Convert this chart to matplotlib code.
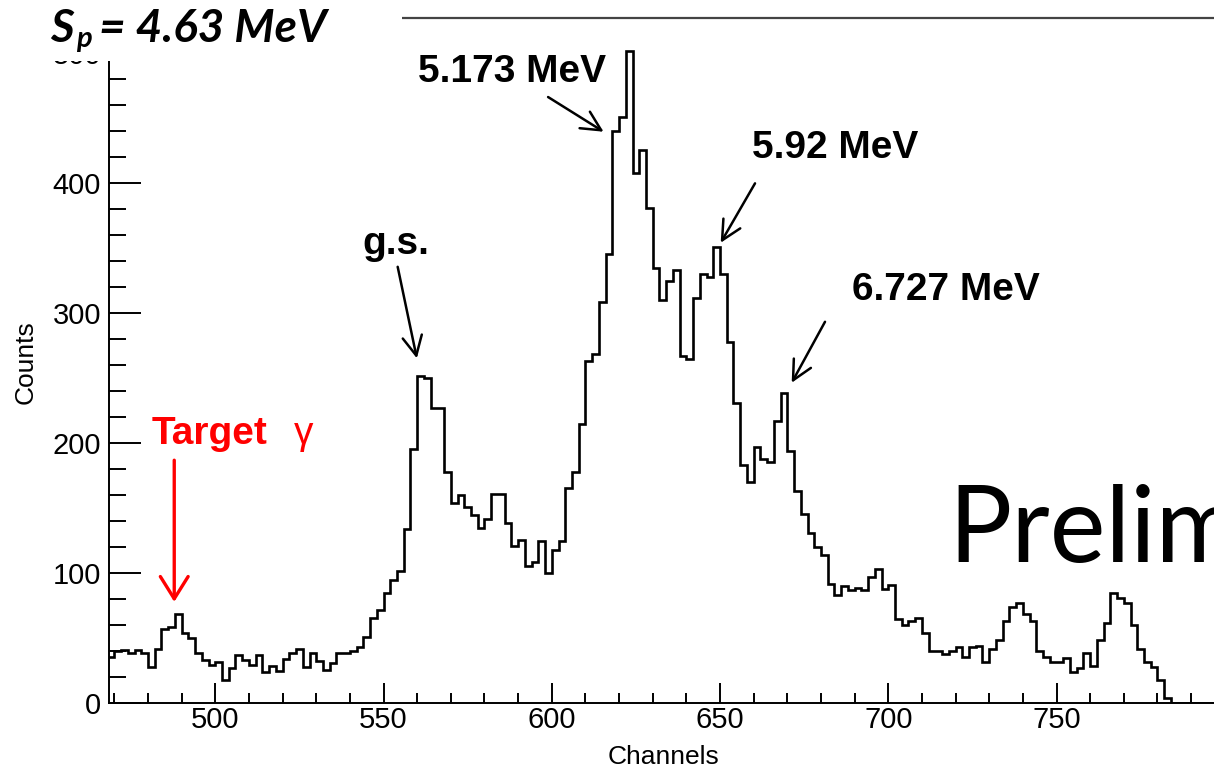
import numpy as np
import matplotlib
matplotlib.use('Agg')
import matplotlib.pyplot as plt
from matplotlib.patches import Rectangle
from matplotlib.patches import ArrowStyle
from matplotlib.ticker import MultipleLocator

plt.rcParams['font.family'] = ['Liberation Sans', 'DejaVu Sans']

# spectrum, 2 channels per bin, first bin starts at channel 468
bin_start = 468
bin_width = 2
counts = [
    36, 40, 41, 39, 41, 38.5, 28, 41.5, 57, 58.5,          # 468-486
    69, 54, 50, 39, 33, 29.5, 32, 18, 27, 37,              # 488-506
    33, 29.5, 37, 24.3, 29, 25, 34, 38.5, 41.5, 27.7,      # 508-526
    38.5, 32.8, 26, 31, 39, 39, 40, 43, 51, 66,            # 528-546
    72, 85, 95, 102, 134, 196, 252, 250, 227, 227,         # 548-566
    178, 154, 160, 151, 145, 135, 142, 161, 161, 139,      # 568-586
    121, 126, 106, 109, 125, 100, 118, 125, 166, 178,      # 588-606
    215, 263, 269, 309, 346, 440, 451, 502, 408, 426,      # 608-626
    381, 335, 310, 325, 333, 267, 265, 312, 330, 328,      # 628-646
    351, 330, 278, 231, 183, 170, 197, 188, 186, 217,      # 648-666
    239, 194, 163, 146, 131, 120, 114, 92, 83, 90,         # 668-686
    87, 89, 87, 97, 103, 88, 91, 65, 60, 63,               # 688-706
    66, 54, 40, 40, 38, 40, 43, 36, 43, 44,                # 708-726
    32, 41.5, 49, 63, 74, 77, 69, 63, 40, 36,              # 728-746
    32, 32, 35, 24, 27, 38.5, 29, 49, 61.5, 84.5,          # 748-766
    81, 77, 60, 41.5, 32, 28, 18, 4, 0, 0,                 # 768-786
    0, 0, 0, 0, 0, 0,                                      # 788-798
]

# peak annotations
peak_names = ['g.s.', '5.173 MeV', '5.92 MeV', '6.727 MeV']
name_pos = [(543.7, 346), (560.3, 478), (659.5, 419.5), (689.2, 310)]
arrow_tail = [(554.2, 335.8), (598.9, 466.4), (660.4, 400), (681.2, 293.5)]
arrow_head = [(559.9, 265.4), (615.4, 439.7), (650.2, 354.3), (671.3, 246.6)]

target_pos = (481, 199.5)
target_tail = (487.8, 187)
target_head = (487.8, 78)

W, H = 1214, 769
fig = plt.figure(figsize=(W / 100, H / 100), dpi=100)
ax = fig.add_axes([109.3 / W, (H - 703.3) / H, (1221.4 - 109.3) / W, (703.3 - 18) / H])

edges = bin_start + bin_width * np.arange(len(counts) + 1)
ax.stairs(counts, edges, color='black', lw=1.9, baseline=None)

ax.set_xlim(468.5, 799)
ax.set_ylim(0, 527.2)

for s in ['left', 'bottom']:
    ax.spines[s].set_linewidth(1.4)
ax.spines['top'].set_linewidth(1.6)
ax.spines['top'].set_color('#444444')
ax.spines['right'].set_visible(False)

ax.xaxis.set_major_locator(MultipleLocator(50))
ax.xaxis.set_minor_locator(MultipleLocator(10))
ax.yaxis.set_major_locator(MultipleLocator(100))
ax.yaxis.set_minor_locator(MultipleLocator(20))
ax.tick_params(which='both', direction='in', top=False, right=False, width=1.4, labelsize=21)
ax.tick_params(axis='x', which='major', length=14.4, pad=2)
ax.tick_params(axis='x', which='minor', length=7.2)
ax.tick_params(axis='y', which='major', length=23, pad=6)
ax.tick_params(axis='y', which='minor', length=12.5)

ax.set_xlabel('Channels', fontsize=19, va='center')
ax.xaxis.set_label_coords(0.498, -0.0784)
ax.set_ylabel('Counts', fontsize=19, va='center')
ax.yaxis.set_label_coords(-0.0756, 0.498)

black_head = ArrowStyle('->', head_length=0.7, head_width=0.35)
for name, pos, tail, head in zip(peak_names, name_pos, arrow_tail, arrow_head):
    ax.text(pos[0], pos[1], name, fontsize=28, fontweight='bold', va='baseline', ha='left')
    ax.annotate('', xy=head, xytext=tail,
                arrowprops=dict(arrowstyle=black_head, lw=1.8, color='black',
                                shrinkA=0, shrinkB=0, mutation_scale=20))

ax.text(target_pos[0], target_pos[1], 'Target', color='red', fontsize=28,
        fontweight='bold', va='baseline')
ax.text(523.2, target_pos[1], '\u03b3', color='red', fontsize=28, va='baseline')
red_head = ArrowStyle('->', head_length=0.8, head_width=0.5)
ax.annotate('', xy=target_head, xytext=target_tail,
            arrowprops=dict(arrowstyle=red_head, lw=2.4, color='red',
                            shrinkA=0, shrinkB=0, mutation_scale=20))

# slide overlay: white box over top-left corner, S_p label, Preliminary stamp
fig.add_artist(Rectangle((0, (H - 61) / H), 402 / W, 61 / H, transform=fig.transFigure,
                         facecolor='white', edgecolor='none', zorder=5))
fig.text(50 / W, 1 - 41.7 / H, 'S', family='Lato', weight='bold', style='italic',
         fontsize=33, va='baseline', zorder=6)
fig.text(76 / W, 1 - 47 / H, 'p', family='Lato', weight='bold', style='italic',
         fontsize=21, va='baseline', zorder=6)
fig.text(99 / W, 1 - 41.7 / H, '= 4.63 MeV', family='Lato', weight='bold', style='italic',
         fontsize=33, va='baseline', zorder=6)
fig.text(948 / W, 1 - 561.7 / H, 'Preliminary', family='Lato', fontsize=76,
         va='baseline', zorder=6)

fig.savefig('out.png', dpi=100)
